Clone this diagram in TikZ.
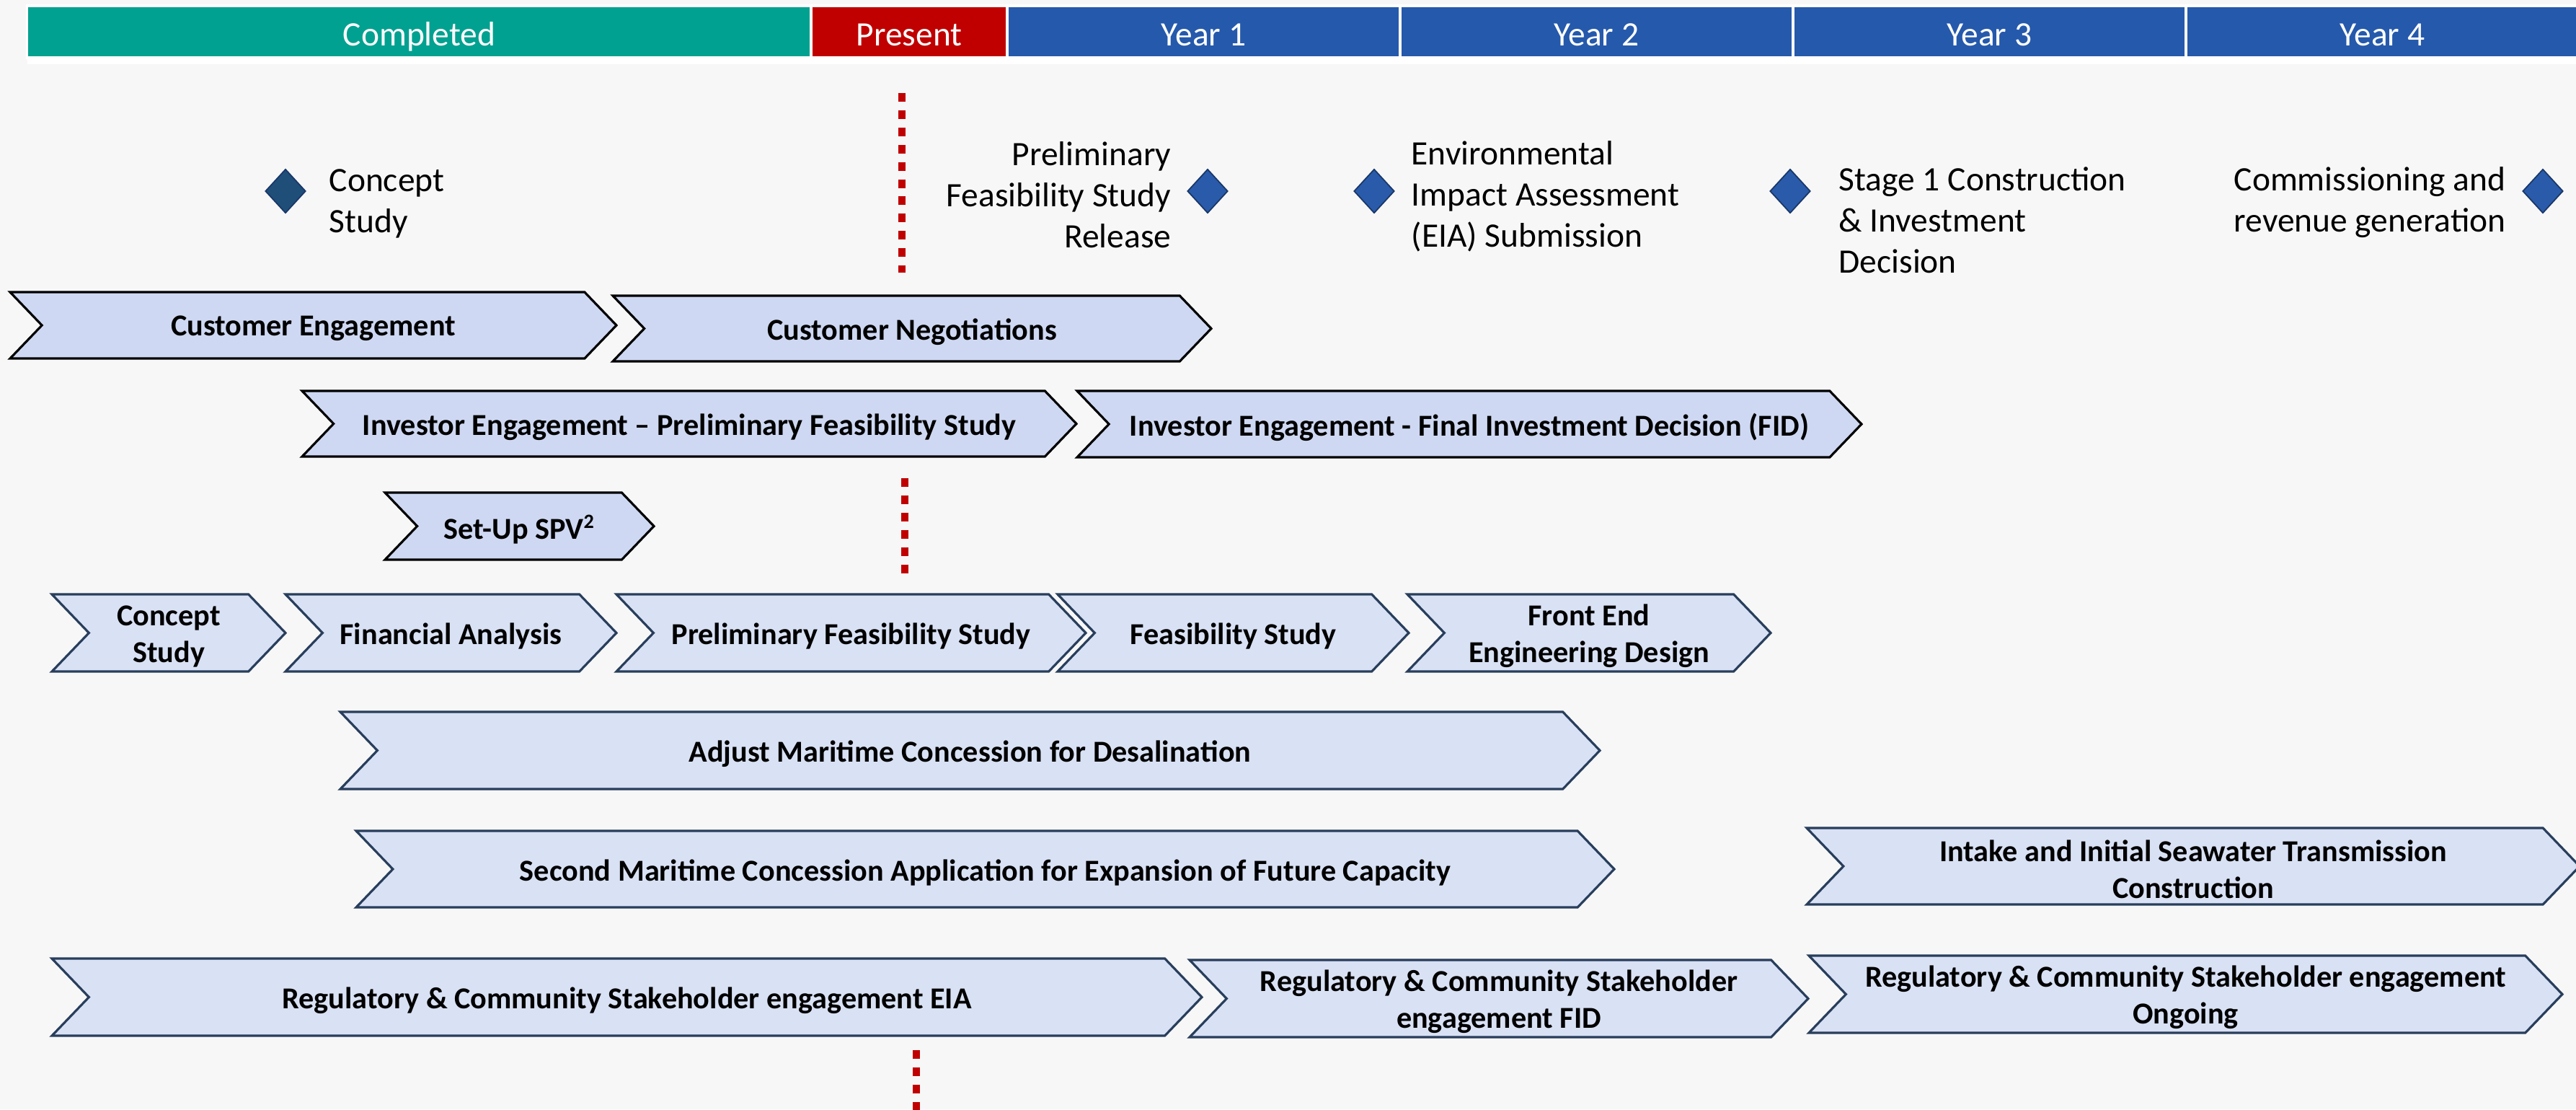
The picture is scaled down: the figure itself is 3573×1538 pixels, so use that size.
\documentclass[tikz,border=0pt]{standalone}
\usepackage{fontspec}
\setmainfont{Carlito}
\usetikzlibrary{shapes.geometric}

\definecolor{donegreen}{RGB}{0,161,144}
\definecolor{nowred}{RGB}{192,0,0}
\definecolor{yearblue}{RGB}{37,89,171}
\definecolor{bggray}{RGB}{247,247,247}
\definecolor{chevfillA}{RGB}{206,216,242}
\definecolor{chevfillB}{RGB}{217,225,244}
\definecolor{chevline}{RGB}{40,62,92}
\definecolor{msdark}{RGB}{31,78,121}
\definecolor{msblue}{RGB}{42,91,170}
\definecolor{msline}{RGB}{25,55,105}

\tikzset{
  hdr/.style={fill=yearblue, draw=white, line width=1pt, text=white, minimum height=0.72cm,
    inner sep=0pt, text height=3.9mm, text depth=0pt, font=\fontsize{13.5pt}{16pt}\selectfont},
  chevA/.style={draw=black, fill=chevfillA, line width=0.9pt, line join=miter},
  chevB/.style={draw=chevline, fill=chevfillB, line width=0.9pt, line join=miter},
  lbl/.style={font=\bfseries\fontsize{12pt}{14.5pt}\selectfont, align=center, inner sep=0pt,
    yshift=-0.45mm},
  mstone/.style={diamond, fill=msblue, draw=msline, line width=0.5pt, inner sep=0pt,
    minimum width=0.56cm, minimum height=0.61cm},
  mtext/.style={font=\fontsize{13.5pt}{16.2pt}\selectfont, inner sep=0pt},
  nowline/.style={draw=nowred, line width=2.6pt, dash pattern=on 3.4pt off 3.4pt}
}

% name, style, left x, tip x, top y, bottom y, text
\newcommand{\phasebar}[7]{%
  \pgfmathsetmacro{\chdep}{0.48*(#6-#5)}
  \pgfmathsetmacro{\chmid}{(#5+#6)/2}
  \draw[#2] (#3,#5) -- ({#4-\chdep},#5) -- (#4,\chmid) -- ({#4-\chdep},#6) -- (#3,#6)
    -- ({#3+\chdep},\chmid) -- cycle;
  \node[lbl] (#1) at ({(#3+#4)/2},\chmid) {#7};
}

\begin{document}
\begin{tikzpicture}[x=0.01cm, y=-0.01cm]
    \useasboundingbox (0,0) rectangle (3573,1538);
    \fill[bggray] (0,0) rectangle (3573,1538);

    \fill[white] (38,8) rectangle (3573,89);
    \node[hdr, fill=donegreen, minimum width=10.87cm] (done) at (581.5,44) {Completed};
    \node[hdr, fill=nowred, minimum width=2.72cm] (now) at (1261,44) {Present};
    \foreach \i in {1,...,4}
        \node[hdr, minimum width=5.45cm] (year\i) at ({1397+545*(\i-0.5)},44) {Year \i};

    \coordinate (r1a) at (1251,129);  \coordinate (r1b) at (1251,378);
    \coordinate (r2a) at (1255,663);  \coordinate (r2b) at (1255,795);
    \coordinate (r3a) at (1271,1456); \coordinate (r3b) at (1271,1545);
    \draw[nowline] (r1a) -- (r1b);
    \draw[nowline] (r2a) -- (r2b);
    \draw[nowline] (r3a) -- (r3b);

    \node[mstone, fill=msdark] (ms1) at (396,265) {};
    \node[mstone] (ms2) at (1675,265) {};
    \node[mstone] (ms3) at (1906,265) {};
    \node[mstone] (ms4) at (2483,265) {};
    \node[mstone] (ms5) at (3527,265) {};
    \node[mtext, anchor=west, align=left] (ms1t) at (456,282) {Concept\\Study};
    \node[mtext, anchor=east, align=right] (ms2t) at (1625,270) {Preliminary\\Feasibility Study\\Release};
    \node[mtext, anchor=west, align=left] (ms3t) at (1957,272) {Environmental\\Impact Assessment\\(EIA) Submission};
    \node[mtext, anchor=west, align=left] (ms4t) at (2550,305) {Stage 1 Construction\\\& Investment\\Decision};
    \node[mtext, anchor=east, align=right] (ms5t) at (3476,281) {Commissioning and\\revenue generation};

    \phasebar{custeng}{chevA}{14}{855}{405}{497}{Customer Engagement}
    \phasebar{custneg}{chevA}{850}{1680}{410}{501}{Customer Negotiations}
    \phasebar{invpfs}{chevA}{419}{1493}{542}{633}{Investor Engagement -- Preliminary Feasibility Study}
    \phasebar{invfid}{chevA}{1494}{2582}{542}{634}{Investor Engagement - Final Investment Decision (FID)}
    \phasebar{spv}{chevA}{534}{907}{683}{776}{Set-Up SPV\textsuperscript{2}}

    \phasebar{concept}{chevB}{72}{396}{824}{931}{Concept\\Study}
    \phasebar{finance}{chevB}{396}{855}{824}{931}{Financial Analysis}
    \phasebar{pfs}{chevB}{855}{1506}{824}{931}{Preliminary Feasibility Study}
    \phasebar{fs}{chevB}{1467}{1954}{824}{931}{Feasibility Study}
    \phasebar{feed}{chevB}{1952}{2456}{824}{931}{Front End\\Engineering Design}
    \phasebar{adjust}{chevB}{472}{2219}{987}{1094}{Adjust Maritime Concession for Desalination}
    \phasebar{second}{chevB}{494}{2239}{1152}{1258}{Second Maritime Concession Application for Expansion of Future Capacity}
    \phasebar{intake}{chevB}{2506}{3578}{1148}{1254}{Intake and Initial Seawater Transmission\\Construction}
    \phasebar{regeia}{chevB}{72}{1667}{1329}{1436}{Regulatory \& Community Stakeholder engagement EIA}
    \phasebar{regfid}{chevB}{1650}{2508}{1331}{1438}{Regulatory \& Community Stakeholder\\engagement FID}
    \phasebar{regon}{chevB}{2509}{3554}{1325}{1432}{Regulatory \& Community Stakeholder engagement\\Ongoing}
\end{tikzpicture}
\end{document}
